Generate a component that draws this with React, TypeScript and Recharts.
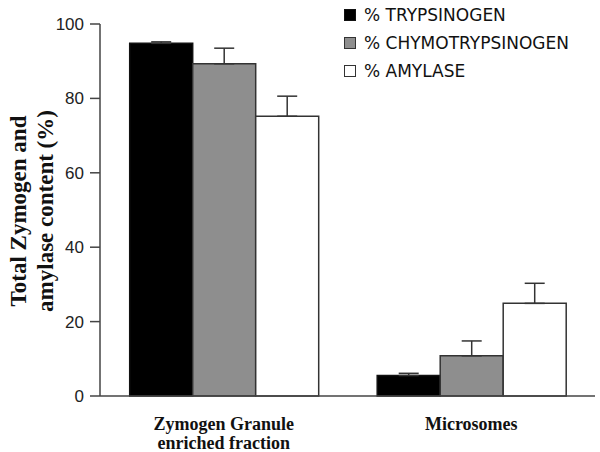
import { BarChart, Bar, XAxis, YAxis, ErrorBar } from "recharts";

const categories = ["Zymogen Granule\nenriched fraction", "Microsomes"];
const trypsinogen = [94.8, 5.5];
const trypsinogenErr = [0.4, 0.6];
const chymotrypsinogen = [89.3, 10.8];
const chymotrypsinogenErr = [4.2, 4.0];
const amylase = [75.2, 24.9];
const amylaseErr = [5.4, 5.4];
const yTicks = [0, 20, 40, 60, 80, 100];

const series = [
  { key: "tryp", name: "% TRYPSINOGEN", fill: "#000000", stroke: "#111111" },
  { key: "chymo", name: "% CHYMOTRYPSINOGEN", fill: "#8e8e8e", stroke: "#333333" },
  { key: "amy", name: "% AMYLASE", fill: "#ffffff", stroke: "#333333" }
];

const data = categories.map((c, i) => ({
  name: c,
  tryp: trypsinogen[i],
  trypErr: [0, trypsinogenErr[i]],
  chymo: chymotrypsinogen[i],
  chymoErr: [0, chymotrypsinogenErr[i]],
  amy: amylase[i],
  amyErr: [0, amylaseErr[i]]
}));

const serif = "'Liberation Serif', 'Times New Roman', serif";
const sans = "'DejaVu Sans', Verdana, sans-serif";
const arial = "'Liberation Sans', Arial, sans-serif";

// two-line bold category labels under the axis
function CategoryTick(props: any) {
  const { x, y, payload } = props;
  const lines = String(payload.value).split("\n");
  return (
    <text x={x} y={y} textAnchor="middle" fontFamily={serif} fontWeight="bold" fontSize={18} fill="#111">
      {lines.map((l, i) => (
        <tspan key={i} x={x} dy={i === 0 ? 26 : 19}>
          {l}
        </tspan>
      ))}
    </text>
  );
}

function YLabel() {
  return (
    <g transform="translate(0,211) rotate(-90)">
      <text x={0} y={26} textAnchor="middle" fontFamily={serif} fontWeight="bold" fontSize={23} fill="#111">
        Total Zymogen and
      </text>
      <text x={0} y={53} textAnchor="middle" fontFamily={serif} fontWeight="bold" fontSize={23} fill="#111">
        amylase content (%)
      </text>
    </g>
  );
}

function LegendBox() {
  return (
    <div style={{ position: "absolute", left: 344, top: 1, fontFamily: sans, fontSize: 17, color: "#111" }}>
      {series.map((s) => (
        <div key={s.key} style={{ display: "flex", alignItems: "center", height: 28 }}>
          <span
            style={{
              display: "inline-block",
              width: 10,
              height: 10,
              background: s.fill,
              border: `1px solid ${s.stroke}`,
              marginRight: 8
            }}
          />
          <span>{s.name}</span>
        </div>
      ))}
    </div>
  );
}

export default function App() {
  return (
    <div style={{ position: "absolute", left: 0, top: 0, width: 600, height: 452, background: "#fff" }}>
      <BarChart
        width={600}
        height={452}
        data={data}
        margin={{ top: 24, right: 5, left: 0, bottom: 0 }}
        barCategoryGap="12%"
        barGap={0}
      >
        <XAxis
          dataKey="name"
          tick={<CategoryTick />}
          tickLine={false}
          axisLine={{ stroke: "#444", strokeWidth: 1.5 }}
          height={56}
          interval={0}
        />
        <YAxis
          domain={[0, 100]}
          ticks={yTicks}
          width={100}
          tickSize={10}
          tickMargin={6}
          tick={{ fill: "#222", fontSize: 17, fontFamily: arial }}
          axisLine={{ stroke: "#444", strokeWidth: 1.5 }}
          tickLine={{ stroke: "#444", strokeWidth: 1.5 }}
          label={<YLabel />}
        />
        {series.map((s) => (
          <Bar
            key={s.key}
            dataKey={s.key}
            name={s.name}
            fill={s.fill}
            stroke={s.stroke}
            strokeWidth={1.5}
            isAnimationActive={false}
          >
            <ErrorBar
              dataKey={s.key + "Err"}
              direction="y"
              width={10}
              stroke="#333"
              strokeWidth={1.5}
              isAnimationActive={false}
            />
          </Bar>
        ))}
      </BarChart>
      <LegendBox />
    </div>
  );
}
